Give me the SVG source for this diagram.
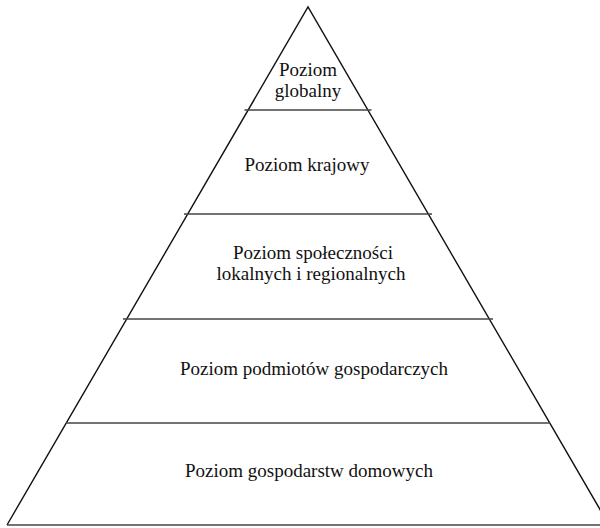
<svg xmlns="http://www.w3.org/2000/svg" width="600" height="528" viewBox="0 0 600 528">
<style>
.side{stroke:#111;stroke-width:1.4;fill:none;stroke-linejoin:miter}
.div{stroke:#444;stroke-width:1.4}
.t{font-family:"Liberation Serif","Times New Roman",serif;font-size:19px;fill:#111;text-anchor:middle}
</style>
<rect width="600" height="528" fill="#fff"/>
<g id="connectors">
<polyline class="side" points="7,525 308,7 609,525"/>
<line class="div" x1="7" y1="525" x2="600" y2="525"/>
<line class="div" x1="244.5" y1="110" x2="371.5" y2="110"/>
<line class="div" x1="184" y1="214" x2="432" y2="214"/>
<line class="div" x1="123" y1="319" x2="493" y2="319"/>
<line class="div" x1="66" y1="423" x2="550" y2="423"/>
</g>
<g id="n1"><text class="t" x="308" y="76">Poziom</text><text class="t" x="308" y="97">globalny</text></g>
<g id="n2"><text class="t" x="307" y="171">Poziom krajowy</text></g>
<g id="n3"><text class="t" x="313" y="259">Poziom społeczności</text><text class="t" x="311" y="280">lokalnych i regionalnych</text></g>
<g id="n4"><text class="t" x="314" y="375">Poziom podmiotów gospodarczych</text></g>
<g id="n5"><text class="t" x="309" y="477">Poziom gospodarstw domowych</text></g>
</svg>
